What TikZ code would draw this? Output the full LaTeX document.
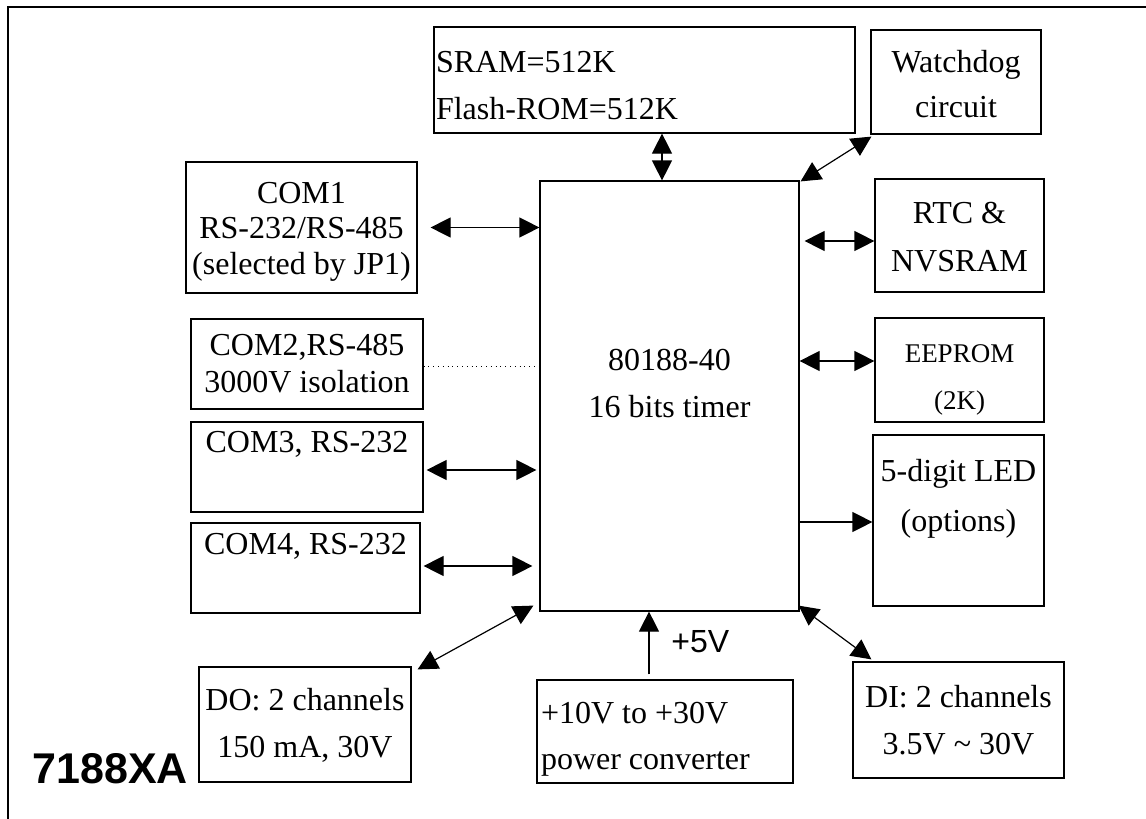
\documentclass[tikz,border=0pt]{standalone}
\usepackage{fontspec}
\setmainfont{Liberation Serif}
\newfontfamily\arialfont{Liberation Sans}
\usetikzlibrary{arrows.meta}
\tikzstyle{block}=[draw,rectangle,line width=0.6pt,inner sep=1pt,align=center,font=\fontsize{16}{23.5}\selectfont]
\tikzstyle{Lblock}=[block,align=flush left]
\tikzstyle{Tblock}=[block,inner ysep=0pt]
\tikzstyle{dbl}=[{Triangle[length=10pt,width=10pt]}-{Triangle[length=10pt,width=10pt]},line width=0.6pt]
\tikzstyle{sgl}=[-{Triangle[length=10pt,width=10pt]},line width=0.6pt]
\tikzstyle{link}=[line width=0.4pt,dotted]
\newcommand{\pxlen}{0.5pt}
\newcommand{\topgap}[1]{\mbox{}\\[#1]}

\begin{document}
\begin{tikzpicture}[x=\pxlen,y=-\pxlen]
    \useasboundingbox (0,0) rectangle (1146,819);
    \draw[line width=0.8pt] (8,830) -- (8,7) -- (1160,7);
    % cpu and memory
    \node[block,minimum width=129.5pt,minimum height=215pt] (cpu) at (669.5,396) {\topgap{-10pt}80188-40\\16 bits timer\\[-8pt]\mbox{}};
    \node[Lblock,minimum width=210.5pt,minimum height=53pt,text width=208.5pt] (sram) at (644.5,80) {\topgap{-7.6pt}SRAM=512K\\Flash-ROM=512K};
    \node[block,minimum width=85pt,minimum height=52pt,font=\fontsize{16}{22.5}\selectfont] (wdog) at (956,82) {\topgap{-9.6pt}Watchdog\\circuit};
    % left side
    \node[block,minimum width=115.5pt,minimum height=65.5pt,font=\fontsize{16}{17.75}\selectfont] (com1) at (301.5,227.5) {\topgap{-2.85pt}COM1\\RS-232/RS-485\\(selected by JP1)};
    \node[block,minimum width=116pt,minimum height=45pt,font=\fontsize{16}{18.5}\selectfont] (com2) at (307,364) {COM2,RS-485\\3000V isolation};
    \node[Tblock,minimum width=116pt,minimum height=45pt,text height=15pt,text depth=30pt] (com3) at (307,467) {COM3, RS-232};
    \node[Tblock,minimum width=114.5pt,minimum height=45pt,text height=15.5pt,text depth=29.5pt] (com4) at (305.5,568) {COM4, RS-232};
    % right side
    \node[block,minimum width=84.5pt,minimum height=56.5pt,font=\fontsize{16}{24}\selectfont] (rtc) at (959.5,235.5) {\topgap{-12pt}RTC \&\\NVSRAM};
    \node[block,minimum width=84.5pt,minimum height=52pt,font=\fontsize{13.5}{23.5}\selectfont] (eeprom) at (959.5,370) {\topgap{-4.6pt}EEPROM\\(2K)};
    \node[block,minimum width=85.5pt,minimum height=85.5pt,font=\fontsize{16}{25}\selectfont] (led) at (958.5,520.5) {5-digit LED\\(options)\\\mbox{}};
    % bottom
    \node[block,minimum width=106pt,minimum height=57.5pt] (do) at (305,724.5) {\topgap{-12pt}DO: 2 channels\\150 mA, 30V};
    \node[Lblock,minimum width=128pt,minimum height=51.5pt,inner xsep=2pt,text width=124pt,font=\fontsize{16}{23}\selectfont] (power) at (665,731.5) {\topgap{-5.1pt}+10V to +30V\\power converter};
    \node[block,minimum width=105.5pt,minimum height=58pt] (di) at (958.5,720) {DI: 2 channels\\3.5V \textasciitilde{} 30V};
    \node[anchor=base west,inner sep=0pt,font=\arialfont\fontsize{16}{19}\selectfont] (vfive) at (671,652) {+5V};
    \node[anchor=base west,inner sep=0pt,font=\arialfont\bfseries\fontsize{21.5}{25}\selectfont] (model) at (32,783) {7188XA};

    \draw[dbl] ([xshift=8.75pt]sram.south) -- ([xshift=-3.75pt]cpu.north);
    \draw[dbl] ([shift={(1,2)}]wdog.south west) -- ([shift={(1,1)}]cpu.north east);
    \draw[dbl] ([shift={(13,0)}]com1.east) -- (com1.east -| cpu.west);
    \draw[link] ([shift={(0,2)}]com2.east) -- ([shift={(0,2)}]com2.east -| cpu.west);
    \draw[dbl] ([shift={(3,3)}]com3.east) -- ([shift={(-3,3)}]com3.east -| cpu.west);
    \draw[dbl] ([shift={(3,-2)}]com4.east) -- ([shift={(-7,-2)}]com4.east -| cpu.west);
    \draw[dbl] ([shift={(5,5.5)}]rtc.west -| cpu.east) -- ([shift={(0,5.5)}]rtc.west);
    \draw[dbl] ([shift={(0,-9)}]eeprom.west -| cpu.east) -- ([shift={(0,-9)}]eeprom.west);
    \draw[sgl] ([shift={(0,1.5)}]led.west -| cpu.east) -- ([shift={(0,1.5)}]led.west);
    \draw[dbl] ([shift={(6,3)}]do.north east) -- ([shift={(-6,-6)}]cpu.south west);
    \draw[sgl] ([shift={(-16,-5)}]power.north) -- ([xshift=-8pt]power.north |- cpu.south);
    \draw[dbl] ([shift={(-1,-6)}]cpu.south east) -- ([shift={(19,-2)}]di.north west);
\end{tikzpicture}
\end{document}
